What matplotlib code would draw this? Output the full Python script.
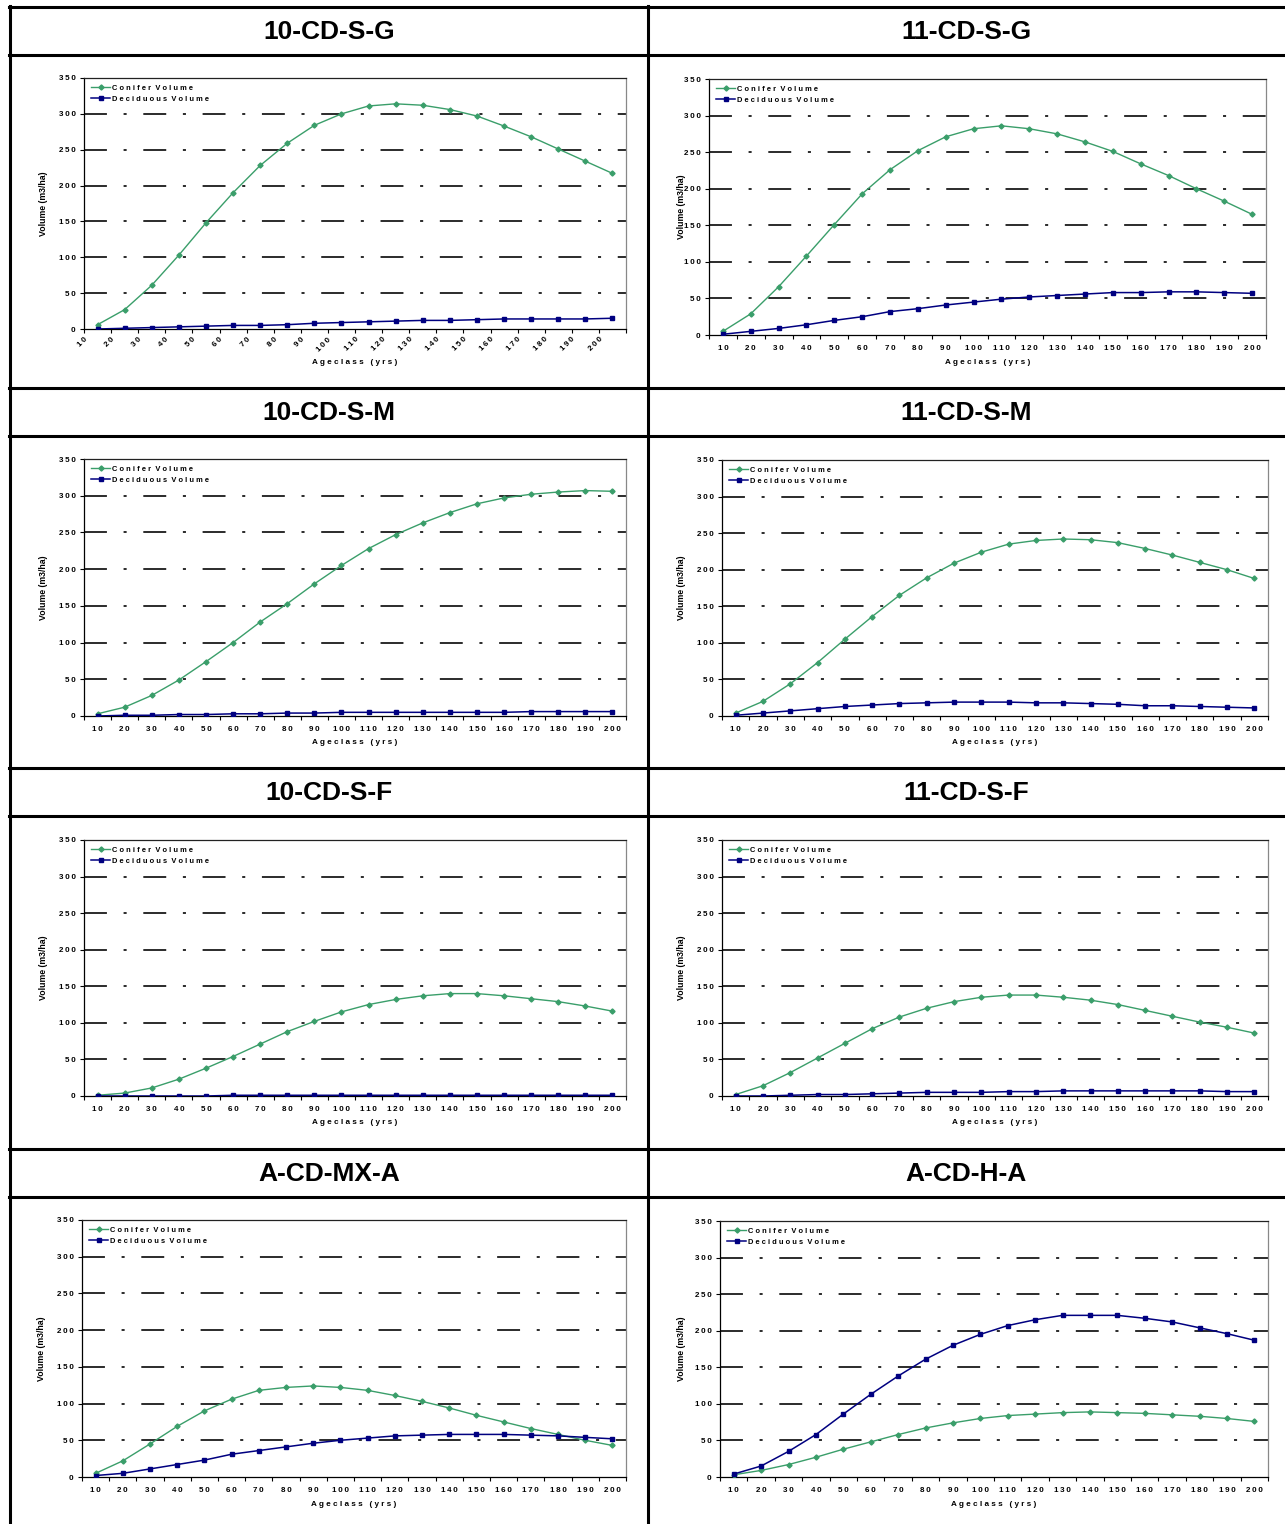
import matplotlib
matplotlib.use("Agg")
import matplotlib.pyplot as plt
from matplotlib.lines import Line2D
import numpy as np

plt.rcParams['font.family'] = ['Liberation Sans', 'DejaVu Sans']
plt.rcParams['lines.scale_dashes'] = False

W, H = 1285, 1524

ages = [10, 20, 30, 40, 50, 60, 70, 80, 90, 100, 110, 120, 130, 140, 150, 160, 170, 180, 190, 200]
y_ticks = [0, 50, 100, 150, 200, 250, 300, 350]

titles = ["10-CD-S-G", "11-CD-S-G", "10-CD-S-M", "11-CD-S-M",
          "10-CD-S-F", "11-CD-S-F", "A-CD-MX-A", "A-CD-H-A"]

conifer_10_CD_S_G = [6, 27, 61, 103, 148, 190, 228, 259, 284, 300, 311, 314, 312, 306, 297, 283, 268, 251, 234, 217]
decid_10_CD_S_G = [0, 1, 2, 3, 4, 5, 5, 6, 8, 9, 10, 11, 12, 12, 13, 14, 14, 14, 14, 15]

conifer_11_CD_S_G = [5, 29, 66, 108, 151, 193, 226, 252, 271, 282, 286, 282, 275, 264, 251, 234, 218, 200, 183, 165]
decid_11_CD_S_G = [1, 5, 9, 14, 20, 25, 32, 36, 41, 45, 49, 52, 54, 56, 58, 58, 59, 59, 58, 57]

conifer_10_CD_S_M = [3, 12, 28, 49, 74, 100, 128, 153, 180, 205, 228, 247, 263, 277, 289, 297, 302, 305, 307, 306]
decid_10_CD_S_M = [0, 1, 1, 2, 2, 3, 3, 4, 4, 5, 5, 5, 5, 5, 5, 5, 6, 6, 6, 6]

conifer_11_CD_S_M = [4, 20, 44, 73, 105, 136, 165, 189, 209, 224, 235, 240, 242, 241, 237, 229, 220, 210, 200, 188]
decid_11_CD_S_M = [1, 4, 7, 10, 13, 15, 17, 18, 19, 19, 19, 18, 18, 17, 16, 14, 14, 13, 12, 11]

conifer_10_CD_S_F = [1, 4, 11, 23, 38, 54, 71, 88, 102, 115, 125, 132, 137, 140, 140, 137, 133, 129, 123, 116]
decid_10_CD_S_F = [0, 0, 0, 0, 0, 1, 1, 1, 1, 1, 1, 1, 1, 1, 1, 1, 1, 1, 1, 1]

conifer_11_CD_S_F = [2, 14, 32, 52, 72, 92, 108, 120, 129, 135, 138, 138, 135, 131, 125, 117, 109, 101, 94, 86]
decid_11_CD_S_F = [0, 0, 1, 2, 2, 3, 4, 5, 5, 5, 6, 6, 7, 7, 7, 7, 7, 7, 6, 6]

conifer_A_CD_MX_A = [5, 22, 45, 69, 90, 106, 118, 122, 124, 122, 118, 111, 103, 94, 84, 75, 66, 58, 50, 43]
decid_A_CD_MX_A = [2, 5, 11, 17, 23, 31, 36, 41, 46, 50, 53, 56, 57, 58, 58, 58, 57, 56, 54, 52]

conifer_A_CD_H_A = [3, 9, 17, 27, 38, 48, 58, 67, 74, 80, 84, 86, 88, 89, 88, 87, 85, 83, 80, 76]
decid_A_CD_H_A = [4, 15, 35, 58, 86, 113, 138, 161, 180, 195, 207, 215, 221, 221, 221, 217, 212, 204, 196, 187]

conifer_series = [conifer_10_CD_S_G, conifer_11_CD_S_G, conifer_10_CD_S_M, conifer_11_CD_S_M,
                  conifer_10_CD_S_F, conifer_11_CD_S_F, conifer_A_CD_MX_A, conifer_A_CD_H_A]
decid_series = [decid_10_CD_S_G, decid_11_CD_S_G, decid_10_CD_S_M, decid_11_CD_S_M,
                decid_10_CD_S_F, decid_11_CD_S_F, decid_A_CD_MX_A, decid_A_CD_H_A]

GREEN = '#3a9e6a'
NAVY = '#000080'

# axes boxes in pixels: left, top, right, bottom
boxes = [(84, 78, 626, 329), (709, 79, 1266, 335),
         (84, 459, 626, 716), (722, 460, 1268, 716),
         (84, 840, 626, 1096), (722, 840, 1268, 1096),
         (82, 1220, 626, 1477), (720, 1221, 1268, 1477)]
ylabel_x = [43, 682, 43, 682, 43, 682, 41, 682]

fig = plt.figure(figsize=(W / 100, H / 100), dpi=100)

def fx(x):
    return x / W

def fy(y):
    return 1 - y / H

def spaced(s):
    return ' '.join(s)

def thin(s):
    return '\u2009'.join(s)

# table lines
tl = 2.2
row_lines = [7, 55, 388, 436, 768, 816, 1149, 1197]
for y in row_lines:
    fig.add_artist(Line2D([fx(9), fx(1285)], [fy(y), fy(y)], color='black', lw=tl, transform=fig.transFigure))
for x in [10, 648]:
    fig.add_artist(Line2D([fx(x), fx(x)], [fy(6), fy(1524)], color='black', lw=tl, transform=fig.transFigure))

col_centers = [329, 966]
title_y = [32, 413, 793, 1174]

grid_dash = (0, (16.5, 12, 2.2, 12))

for i in range(8):
    l, t, r, b = boxes[i]
    ax = fig.add_axes([fx(l), fy(b), fx(r) - fx(l), fy(t) - fy(b)])
    rotated = (i == 0)
    if rotated:
        xs = np.arange(20) + 0.5
        ax.set_xlim(0, 20)
    else:
        xs = np.arange(20) + 1.0
        ax.set_xlim(0.5, 20.5)
    ax.set_ylim(0, 350)
    for yv in y_ticks[1:-1]:
        ax.axhline(yv, color='#1a1a1a', lw=1.3, linestyle=grid_dash, zorder=1)
    ax.plot(xs, conifer_series[i], color=GREEN, lw=1.0, marker='D', markersize=2.6,
            label=spaced('Conifer') + '  ' + spaced('Volume'), zorder=3)
    ax.plot(xs, decid_series[i], color=NAVY, lw=1.1, marker='s', markersize=3.5,
            label=spaced('Deciduous') + '  ' + spaced('Volume'), zorder=4)
    ax.set_yticks(y_ticks)
    ax.set_yticklabels([thin(str(v)) for v in y_ticks], fontsize=5.8, fontweight='bold')
    ax.tick_params(axis='y', length=3, width=0.8, pad=3)
    if rotated:
        ax.set_xticks(np.arange(21))
        ax.set_xticklabels([thin(str(a)) for a in ages] + [''], fontsize=5.8, fontweight='bold',
                           rotation=45, ha='right', va='top', rotation_mode='anchor')
        ax.tick_params(axis='x', length=3, width=0.8, pad=2)
    else:
        ax.set_xticks(xs)
        ax.set_xticklabels([thin(str(a)) for a in ages], fontsize=5.8, fontweight='bold')
        ax.set_xticks(np.arange(21) + 0.5, minor=True)
        ax.tick_params(axis='x', which='major', length=0, pad=7)
        ax.tick_params(axis='x', which='minor', length=3, width=0.8)
    ax.spines['top'].set_color('#222222')
    ax.spines['right'].set_color('#888888')
    for s in ax.spines.values():
        s.set_linewidth(0.9)
    leg = ax.legend(loc='upper left', frameon=False, fontsize=5.4, handlelength=2.6,
                    handletextpad=0.25, labelspacing=0.45, borderaxespad=0.5,
                    bbox_to_anchor=(0.0, 1.0))
    for txt in leg.get_texts():
        txt.set_fontweight('bold')
    # axis labels
    fig.text(fx(ylabel_x[i]), fy((t + b) / 2), 'Volume (m3/ha)', rotation=90, ha='center', va='center',
             fontsize=6.3, fontweight='bold')
    xl_y = b + (34 if rotated else 27)
    fig.text(fx((l + r) / 2), fy(xl_y), 'A g e c l a s s   ( y r s )', ha='center', va='center',
             fontsize=5.9, fontweight='bold')
    # title
    col = i % 2
    row = i // 2
    fig.text(fx(col_centers[col]), fy(title_y[row]), titles[i], ha='center', va='center',
             fontsize=19, fontweight='bold')

fig.savefig('out.png', dpi=100)
